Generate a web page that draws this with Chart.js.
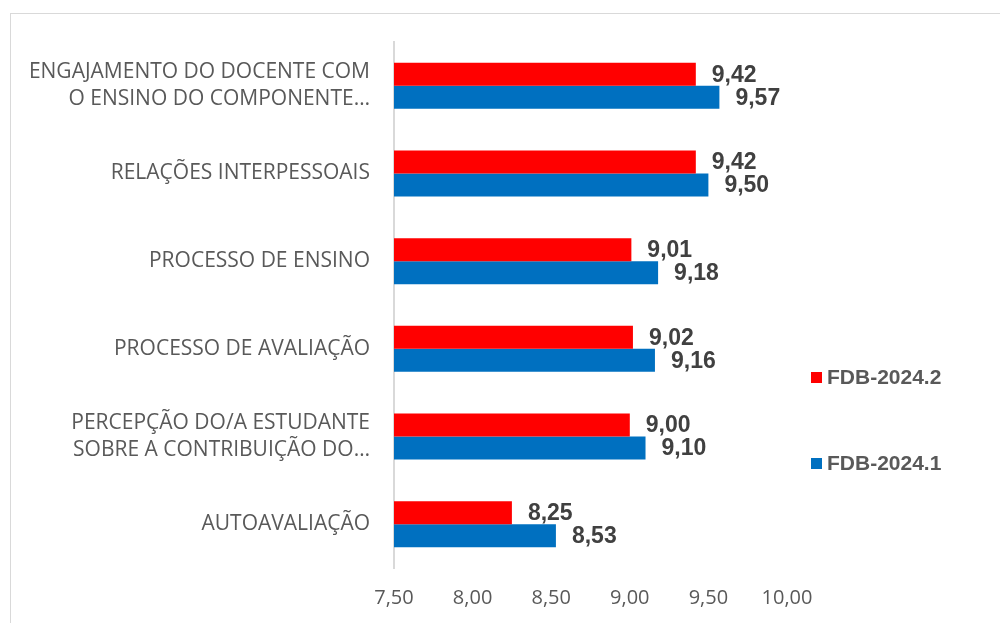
<!DOCTYPE html>
<html>
<head>
<meta charset="utf-8">
<script src="https://cdn.jsdelivr.net/npm/chart.js@4"></script>
<style>
    html, body { margin: 0; padding: 0; background: #ffffff; }
    #wrap { width: 1000px; height: 623px; position: relative; }
</style>
</head>
<body>
<div id="wrap"><canvas id="chart"></canvas></div>
<script>
const categories = [
    ['ENGAJAMENTO DO DOCENTE COM', 'O ENSINO DO COMPONENTE…'],
    'RELAÇÕES INTERPESSOAIS',
    'PROCESSO DE ENSINO',
    'PROCESSO DE AVALIAÇÃO',
    ['PERCEPÇÃO DO/A ESTUDANTE', 'SOBRE A CONTRIBUIÇÃO DO…'],
    'AUTOAVALIAÇÃO',
];
const seriesNames = ['FDB-2024.2', 'FDB-2024.1'];
const values2024_2 = [9.42, 9.42, 9.01, 9.02, 9.00, 8.25];
const values2024_1 = [9.57, 9.50, 9.18, 9.16, 9.10, 8.53];
const xTicks = [7.5, 8.0, 8.5, 9.0, 9.5, 10.0];

const fmt = v => v.toFixed(2).replace('.', ',');

// Light frame round the whole chart, like the spreadsheet chart border.
const framePlugin = {
    id: 'frame',
    beforeDraw(chart) {
        const ctx = chart.ctx;
        ctx.save();
        ctx.strokeStyle = '#d9d9d9';
        ctx.lineWidth = 1;
        ctx.strokeRect(10.5, 13.5, 1000, 700);
        ctx.restore();
    },
};

// Value labels at the end of each bar.
const valueLabels = {
    id: 'valueLabels',
    afterDatasetsDraw(chart) {
        const ctx = chart.ctx;
        ctx.save();
        ctx.font = 'bold 23px "Liberation Sans", Arial, sans-serif';
        ctx.fillStyle = '#404040';
        ctx.textAlign = 'left';
        ctx.textBaseline = 'middle';
        chart.data.datasets.forEach((ds, i) => {
            chart.getDatasetMeta(i).data.forEach((bar, j) => {
                ctx.fillText(fmt(ds.data[j]), bar.x + 16, bar.y + 1);
            });
        });
        ctx.restore();
    },
};

// Legend on the right, one item per series.
const sideLegend = {
    id: 'sideLegend',
    afterDraw(chart) {
        const ctx = chart.ctx;
        const rows = [377, 463];
        ctx.save();
        ctx.font = 'bold 21px "Liberation Sans", Arial, sans-serif';
        ctx.textBaseline = 'middle';
        chart.data.datasets.forEach((ds, i) => {
            const y = rows[i];
            ctx.fillStyle = ds.backgroundColor;
            ctx.fillRect(811, y - 5, 11, 11);
            ctx.fillStyle = '#595959';
            ctx.fillText(ds.label, 827, y + 1);
        });
        ctx.restore();
    },
};

new Chart(document.getElementById('chart'), {
    type: 'bar',
    data: {
        labels: categories,
        datasets: [
            { label: seriesNames[0], data: values2024_2, backgroundColor: '#ff0000' },
            { label: seriesNames[1], data: values2024_1, backgroundColor: '#0070c0' },
        ],
    },
    options: {
        indexAxis: 'y',
        responsive: true,
        maintainAspectRatio: false,
        animation: false,
        layout: { padding: { top: 42, right: 213, left: 0, bottom: 0 } },
        categoryPercentage: 0.525,
        barPercentage: 1.0,
        plugins: {
            legend: { display: false },
            tooltip: { enabled: false },
        },
        scales: {
            x: {
                min: 7.5,
                max: 10,
                afterBuildTicks: scale => { scale.ticks = xTicks.map(v => ({ value: v })); },
                afterFit: scale => { scale.height = 55; },
                grid: { display: false, drawTicks: false },
                border: { display: false },
                ticks: {
                    padding: 18,
                    color: '#595959',
                    font: { family: '"Open Sans", sans-serif', size: 20 },
                    callback: v => fmt(v),
                },
            },
            y: {
                afterFit: scale => { scale.width = 394; },
                grid: { display: false, drawTicks: false },
                border: { display: true, color: '#d9d9d9', width: 2 },
                ticks: {
                    padding: 24,
                    color: '#595959',
                    font: { family: '"Open Sans", sans-serif', size: 21, lineHeight: 1.3 },
                },
            },
        },
    },
    plugins: [framePlugin, valueLabels, sideLegend],
});
</script>
</body>
</html>
